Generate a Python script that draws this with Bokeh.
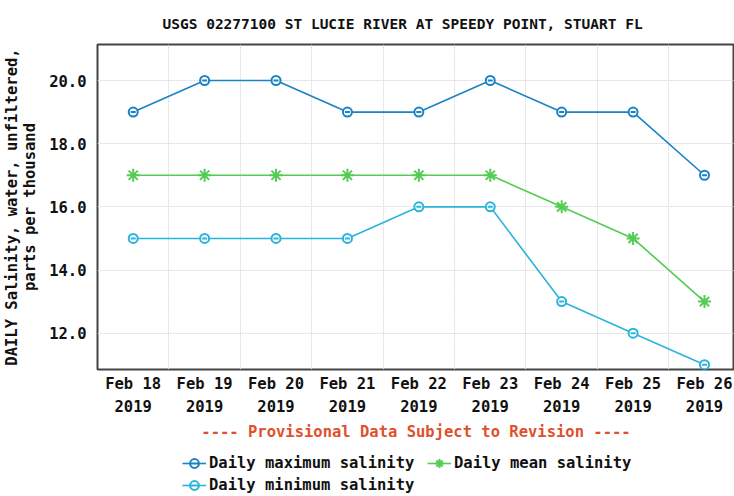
from bokeh.plotting import figure
from bokeh.layouts import column
from bokeh.models import Legend, LegendItem, FixedTicker, Range1d
from bokeh.embed import file_html
from bokeh.resources import INLINE

# ---- data ----
dates = ["Feb 18", "Feb 19", "Feb 20", "Feb 21", "Feb 22", "Feb 23", "Feb 24", "Feb 25", "Feb 26"]
year = "2019"
daily_max = [19, 20, 20, 19, 19, 20, 19, 19, 17]
daily_mean = [17, 17, 17, 17, 17, 17, 16, 15, 13]
daily_min = [15, 15, 15, 15, 16, 16, 13, 12, 11]
y_ticks = [12, 14, 16, 18, 20]

x = list(range(len(dates)))
FONT = "DejaVu Sans Mono"
FS = "15.5px"
C_MAX = "#1b82c4"
C_MIN = "#2ab4dc"
C_MEAN = "#52cc52"

p = figure(width=734, height=446, output_backend="svg", toolbar_location=None,
           x_range=Range1d(-0.5, len(dates) - 0.58), y_range=Range1d(10.85, 21.14),
           min_border_left=97, min_border_top=44, min_border_bottom=77, min_border_right=0)

p.title.text = "USGS 02277100 ST LUCIE RIVER AT SPEEDY POINT, STUART FL"
p.title.text_font = FONT
p.title.text_font_size = "14.5px"
p.title.text_font_style = "bold"
p.title.align = "left"
p.title.offset = 65
p.title.standoff = 26
p.title.text_color = "#111111"

p.outline_line_color = "#444444"
p.outline_line_width = 2

# axes
p.xaxis.ticker = FixedTicker(ticks=x)
p.xaxis.major_label_overrides = {i: f"{d}\n{year}" for i, d in enumerate(dates)}
p.yaxis.ticker = FixedTicker(ticks=y_ticks)
p.yaxis.major_label_overrides = {t: f"{t:.1f}" for t in y_ticks}
for ax in (p.xaxis[0], p.yaxis[0]):
    ax.axis_line_color = None
    ax.major_tick_line_color = None
    ax.minor_tick_line_color = None
    ax.major_tick_out = 0
    ax.major_tick_in = 0
    ax.major_label_text_font = FONT
    ax.major_label_text_font_size = FS
    ax.major_label_text_font_style = "bold"
    ax.major_label_text_color = "#111111"
    ax.axis_label_text_font = FONT
    ax.axis_label_text_font_size = FS
    ax.axis_label_text_font_style = "bold"
p.xaxis.major_label_text_line_height = 1.3
p.xaxis.major_label_standoff = 5
p.yaxis.major_label_standoff = 11
p.yaxis.axis_label = "DAILY Salinity, water, unfiltered,\nparts per thousand"
p.yaxis.axis_label_text_color = "#111111"
p.yaxis.axis_label_text_line_height = 1.0
p.yaxis.axis_label_standoff = 7
p.xaxis.axis_label = "---- Provisional Data Subject to Revision ----"
p.xaxis.axis_label_text_color = "#e0502c"
p.xaxis.axis_label_standoff = 4

# grids
p.xgrid.ticker = FixedTicker(ticks=[i + 0.5 for i in x])
p.ygrid.ticker = FixedTicker(ticks=y_ticks)
for g in (p.xgrid[0], p.ygrid[0]):
    g.grid_line_color = "#dcdcdc"
    g.grid_line_dash = "2 1"

# series
def circ_series(fig, vals, color):
    ln = fig.line(x, vals, line_color=color, line_width=1.6)
    c = fig.scatter(x, vals, marker="circle", size=9, line_color=color,
                    fill_color="white", line_width=2)
    d = fig.scatter(x, vals, marker="dash", size=5, line_color=color, line_width=2)
    return [ln, c, d]

def star_series(fig, vals, color):
    ln = fig.line(x, vals, line_color=color, line_width=1.6)
    m = fig.scatter(x, vals, marker="asterisk", size=13, line_color=color, line_width=2)
    return [ln, m]

circ_series(p, daily_max, C_MAX)
star_series(p, daily_mean, C_MEAN)
circ_series(p, daily_min, C_MIN)

# legend strip below the chart (its series lie outside its visible range)
lf = figure(width=734, height=50, output_backend="svg", toolbar_location=None,
            x_range=Range1d(-100, -99), y_range=Range1d(-100, -99),
            min_border=0, outline_line_color=None)
lf.axis.visible = False
lf.grid.visible = False
lr_max = circ_series(lf, daily_max, C_MAX)
lr_mean = star_series(lf, daily_mean, C_MEAN)
lr_min = circ_series(lf, daily_min, C_MIN)

legend = Legend(items=[
    LegendItem(label="Daily maximum salinity", renderers=lr_max),
    LegendItem(label="Daily mean salinity", renderers=lr_mean),
    LegendItem(label="Daily minimum salinity", renderers=lr_min),
], orientation="horizontal", ncols=2, location=(85, 0))
legend.label_text_font = FONT
legend.label_text_font_size = FS
legend.label_text_font_style = "bold"
legend.label_text_color = "#111111"
legend.border_line_color = None
legend.background_fill_alpha = 0
legend.glyph_width = 24
legend.glyph_height = 22
legend.label_standoff = 3
legend.label_width = 218
legend.spacing = 0
legend.padding = 0
legend.margin = 0
legend.label_height = 14
lf.add_layout(legend, "center")

open("out.html", "w").write(file_html(column(p, lf, spacing=0), INLINE))
